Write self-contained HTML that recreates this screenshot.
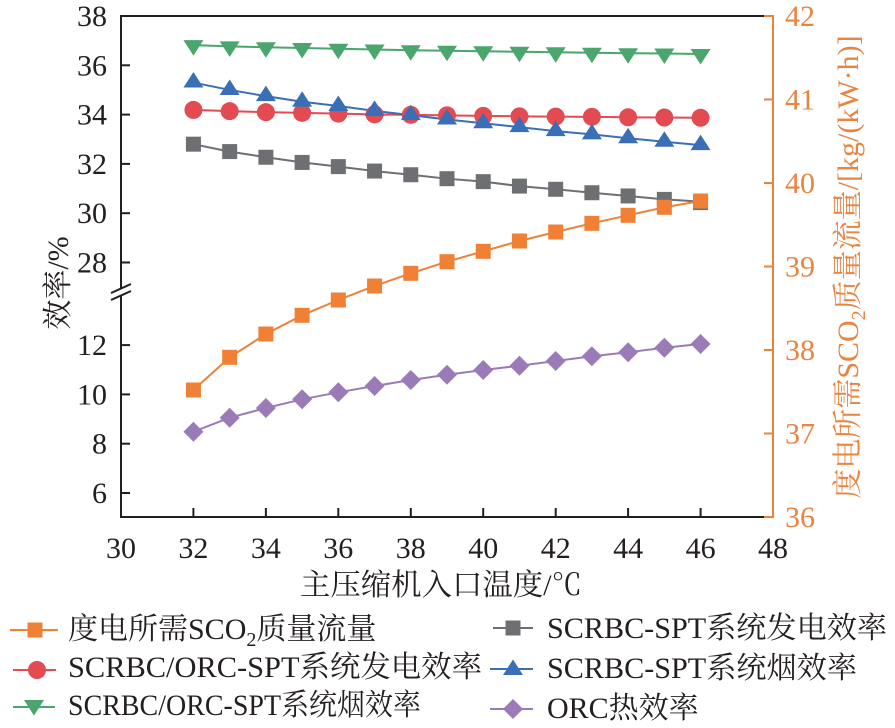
<!DOCTYPE html>
<html>
<head>
<meta charset="utf-8">
<style>
html,body{margin:0;padding:0;background:#fff;}
svg{display:block;}
text{font-family:"Liberation Serif","Noto Serif CJK SC","Noto Sans CJK SC",serif;}
</style>
</head>
<body>
<svg width="895" height="728" viewBox="0 0 895 728" xmlns="http://www.w3.org/2000/svg">
<defs>
  <rect id="sqO" x="-7.5" y="-7.5" width="15" height="15" fill="#f08035"/>
  <rect id="sqG" x="-7.5" y="-7.5" width="15" height="15" fill="#6e6f72"/>
  <circle id="ciR" cx="0" cy="0" r="9" fill="#e34a52"/>
  <polygon id="tuB" points="-10,5 10,5 0,-10.5" fill="#3a6fb8"/>
  <polygon id="tdG" points="-10,-5 10,-5 0,10.5" fill="#4aa66c"/>
  <polygon id="diP" points="0,-10 10,0 0,10 -10,0" fill="#9a7bb8"/>
</defs>

<!-- frame -->
<g stroke="#231f20" stroke-width="2" fill="none">
  <line x1="120" y1="16" x2="773" y2="16"/>
  <line x1="120" y1="517" x2="773" y2="517"/>
  <line x1="121" y1="15" x2="121" y2="288.5"/>
  <line x1="121" y1="295.5" x2="121" y2="518"/>
  <line x1="121" y1="65.3" x2="130" y2="65.3"/>
  <line x1="121" y1="114.6" x2="130" y2="114.6"/>
  <line x1="121" y1="163.9" x2="130" y2="163.9"/>
  <line x1="121" y1="213.2" x2="130" y2="213.2"/>
  <line x1="121" y1="262.5" x2="130" y2="262.5"/>
  <line x1="121" y1="345.1" x2="130" y2="345.1"/>
  <line x1="121" y1="394.4" x2="130" y2="394.4"/>
  <line x1="121" y1="443.7" x2="130" y2="443.7"/>
  <line x1="121" y1="493" x2="130" y2="493"/>
  <line x1="193.4" y1="508" x2="193.4" y2="517"/>
  <line x1="265.9" y1="508" x2="265.9" y2="517"/>
  <line x1="338.3" y1="508" x2="338.3" y2="517"/>
  <line x1="410.8" y1="508" x2="410.8" y2="517"/>
  <line x1="483.2" y1="508" x2="483.2" y2="517"/>
  <line x1="555.7" y1="508" x2="555.7" y2="517"/>
  <line x1="628.1" y1="508" x2="628.1" y2="517"/>
  <line x1="700.6" y1="508" x2="700.6" y2="517"/>
  <line x1="111" y1="293" x2="131" y2="284"/>
  <line x1="111" y1="300" x2="131" y2="291"/>
</g>
<g stroke="#e9833f" stroke-width="2" fill="none">
  <line x1="773" y1="15" x2="773" y2="518"/>
  <line x1="764" y1="16" x2="773" y2="16"/>
  <line x1="764" y1="99.5" x2="773" y2="99.5"/>
  <line x1="764" y1="183" x2="773" y2="183"/>
  <line x1="764" y1="266.5" x2="773" y2="266.5"/>
  <line x1="764" y1="350" x2="773" y2="350"/>
  <line x1="764" y1="433.5" x2="773" y2="433.5"/>
  <line x1="764" y1="517" x2="773" y2="517"/>
</g>

<g font-size="30" fill="#231f20" text-anchor="end">
  <text x="107" y="26">38</text>
  <text x="107" y="75.3">36</text>
  <text x="107" y="124.6">34</text>
  <text x="107" y="173.9">32</text>
  <text x="107" y="223.2">30</text>
  <text x="107" y="272.5">28</text>
  <text x="107" y="355.1">12</text>
  <text x="107" y="404.4">10</text>
  <text x="107" y="453.7">8</text>
  <text x="107" y="503">6</text>
</g>
<g font-size="30" fill="#231f20" text-anchor="middle">
  <text x="121" y="558">30</text>
  <text x="193.4" y="558">32</text>
  <text x="265.9" y="558">34</text>
  <text x="338.3" y="558">36</text>
  <text x="410.8" y="558">38</text>
  <text x="483.2" y="558">40</text>
  <text x="555.7" y="558">42</text>
  <text x="628.1" y="558">44</text>
  <text x="700.6" y="558">46</text>
  <text x="773" y="558">48</text>
</g>
<g font-size="30" fill="#e9833f" text-anchor="start">
  <text x="785" y="26">42</text>
  <text x="785" y="109.5">41</text>
  <text x="785" y="193">40</text>
  <text x="785" y="276.5">39</text>
  <text x="785" y="360">38</text>
  <text x="785" y="443.5">37</text>
  <text x="785" y="527">36</text>
</g>

<text x="300" y="595" font-size="30" fill="#231f20" textLength="282" lengthAdjust="spacingAndGlyphs">主压缩机入口温度/℃</text>
<text transform="translate(68,283) rotate(-90)" font-size="30" fill="#231f20" text-anchor="middle">效率/%</text>
<text transform="translate(858,267) rotate(-90)" font-size="30" fill="#e9833f" text-anchor="middle">度电所需SCO<tspan font-size="20" dy="7">2</tspan><tspan dy="-7">质量流量/[kg/(kW·h)]</tspan></text>

<g fill="none" stroke-width="2">
  <polyline stroke="#6e6f72" points="193.44,144.18 229.67,151.58 265.89,157.24 302.11,162.42 338.33,166.61 374.56,171.05 410.78,174.75 447,178.69 483.22,181.65 519.44,186.09 555.67,189.29 591.89,192.74 628.11,195.95 664.33,199.4 700.56,201.61"/>
  <polyline stroke="#e34a52" points="193.44,109.92 229.67,111.15 265.89,112.14 302.11,112.87 338.33,113.61 374.56,114.35 410.78,114.85 447,115.34 483.22,115.83 519.44,116.33 555.67,116.57 591.89,116.82 628.11,117.31 664.33,117.56 700.56,117.8"/>
  <polyline stroke="#3a6fb8" points="193.44,82.56 229.67,89.95 265.89,96.11 302.11,101.78 338.33,105.97 374.56,110.9 410.78,115.09 447,119.53 483.22,123.23 519.44,127.17 555.67,131.12 591.89,134.32 628.11,138.26 664.33,141.72 700.56,145.17"/>
  <polyline stroke="#4aa66c" points="193.44,45.09 229.67,46.32 265.89,47.31 302.11,48.05 338.33,48.78 374.56,49.52 410.78,50.26 447,50.76 483.22,51.25 519.44,51.74 555.67,52.24 591.89,52.73 628.11,53.22 664.33,53.47 700.56,53.96"/>
  <polyline stroke="#9a7bb8" points="193.44,431.7 229.67,417.7 265.89,408 302.11,399.3 338.33,392.3 374.56,386 410.78,380 447,374.7 483.22,370 519.44,365.7 555.67,361 591.89,356.3 628.11,352.3 664.33,347.7 700.56,344"/>
  <polyline stroke="#f08035" points="193.44,390 229.67,357.3 265.89,334 302.11,315.3 338.33,300 374.56,286 410.78,273.3 447,261.7 483.22,251.3 519.44,241 555.67,232 591.89,223.3 628.11,215.3 664.33,207.3 700.56,201"/>
</g>

<g>
  <use href="#sqG" x="193.44" y="144.18"/><use href="#sqG" x="229.67" y="151.58"/><use href="#sqG" x="265.89" y="157.24"/><use href="#sqG" x="302.11" y="162.42"/><use href="#sqG" x="338.33" y="166.61"/><use href="#sqG" x="374.56" y="171.05"/><use href="#sqG" x="410.78" y="174.75"/><use href="#sqG" x="447" y="178.69"/><use href="#sqG" x="483.22" y="181.65"/><use href="#sqG" x="519.44" y="186.09"/><use href="#sqG" x="555.67" y="189.29"/><use href="#sqG" x="591.89" y="192.74"/><use href="#sqG" x="628.11" y="195.95"/><use href="#sqG" x="664.33" y="199.4"/><use href="#sqG" x="700.56" y="202.61"/>
</g>
<g>
  <use href="#ciR" x="193.44" y="109.92"/><use href="#ciR" x="229.67" y="111.15"/><use href="#ciR" x="265.89" y="112.14"/><use href="#ciR" x="302.11" y="112.87"/><use href="#ciR" x="338.33" y="113.61"/><use href="#ciR" x="374.56" y="114.35"/><use href="#ciR" x="410.78" y="114.85"/><use href="#ciR" x="447" y="115.34"/><use href="#ciR" x="483.22" y="115.83"/><use href="#ciR" x="519.44" y="116.33"/><use href="#ciR" x="555.67" y="116.57"/><use href="#ciR" x="591.89" y="116.82"/><use href="#ciR" x="628.11" y="117.31"/><use href="#ciR" x="664.33" y="117.56"/><use href="#ciR" x="700.56" y="117.8"/>
</g>
<g>
  <use href="#tuB" x="193.44" y="82.56"/><use href="#tuB" x="229.67" y="89.95"/><use href="#tuB" x="265.89" y="96.11"/><use href="#tuB" x="302.11" y="101.78"/><use href="#tuB" x="338.33" y="105.97"/><use href="#tuB" x="374.56" y="110.9"/><use href="#tuB" x="410.78" y="115.09"/><use href="#tuB" x="447" y="119.53"/><use href="#tuB" x="483.22" y="123.23"/><use href="#tuB" x="519.44" y="127.17"/><use href="#tuB" x="555.67" y="131.12"/><use href="#tuB" x="591.89" y="134.32"/><use href="#tuB" x="628.11" y="138.26"/><use href="#tuB" x="664.33" y="141.72"/><use href="#tuB" x="700.56" y="145.17"/>
</g>
<g>
  <use href="#tdG" x="193.44" y="45.09"/><use href="#tdG" x="229.67" y="46.32"/><use href="#tdG" x="265.89" y="47.31"/><use href="#tdG" x="302.11" y="48.05"/><use href="#tdG" x="338.33" y="48.78"/><use href="#tdG" x="374.56" y="49.52"/><use href="#tdG" x="410.78" y="50.26"/><use href="#tdG" x="447" y="50.76"/><use href="#tdG" x="483.22" y="51.25"/><use href="#tdG" x="519.44" y="51.74"/><use href="#tdG" x="555.67" y="52.24"/><use href="#tdG" x="591.89" y="52.73"/><use href="#tdG" x="628.11" y="53.22"/><use href="#tdG" x="664.33" y="53.47"/><use href="#tdG" x="700.56" y="53.96"/>
</g>
<g>
  <use href="#diP" x="193.44" y="431.7"/><use href="#diP" x="229.67" y="417.7"/><use href="#diP" x="265.89" y="408"/><use href="#diP" x="302.11" y="399.3"/><use href="#diP" x="338.33" y="392.3"/><use href="#diP" x="374.56" y="386"/><use href="#diP" x="410.78" y="380"/><use href="#diP" x="447" y="374.7"/><use href="#diP" x="483.22" y="370"/><use href="#diP" x="519.44" y="365.7"/><use href="#diP" x="555.67" y="361"/><use href="#diP" x="591.89" y="356.3"/><use href="#diP" x="628.11" y="352.3"/><use href="#diP" x="664.33" y="347.7"/><use href="#diP" x="700.56" y="344"/>
</g>
<g>
  <use href="#sqO" x="193.44" y="390"/><use href="#sqO" x="229.67" y="357.3"/><use href="#sqO" x="265.89" y="334"/><use href="#sqO" x="302.11" y="315.3"/><use href="#sqO" x="338.33" y="300"/><use href="#sqO" x="374.56" y="286"/><use href="#sqO" x="410.78" y="273.3"/><use href="#sqO" x="447" y="261.7"/><use href="#sqO" x="483.22" y="251.3"/><use href="#sqO" x="519.44" y="241"/><use href="#sqO" x="555.67" y="232"/><use href="#sqO" x="591.89" y="223.3"/><use href="#sqO" x="628.11" y="215.3"/><use href="#sqO" x="664.33" y="207.3"/><use href="#sqO" x="700.56" y="201"/>
</g>

<g stroke-width="2">
  <line x1="10" y1="630" x2="58" y2="630" stroke="#f08035"/>
  <line x1="13" y1="670" x2="56" y2="670" stroke="#e34a52"/>
  <line x1="13" y1="707" x2="55" y2="707" stroke="#4aa66c"/>
  <line x1="493" y1="628" x2="533" y2="628" stroke="#6e6f72"/>
  <line x1="490" y1="669" x2="533" y2="669" stroke="#3a6fb8"/>
  <line x1="490" y1="709" x2="533" y2="709" stroke="#9a7bb8"/>
</g>
<use href="#sqO" x="35" y="630"/>
<use href="#ciR" x="37" y="670"/>
<use href="#tdG" x="34" y="705"/>
<use href="#sqG" x="513" y="628"/>
<use href="#tuB" x="513" y="670"/>
<use href="#diP" x="513" y="709"/>

<g font-size="30" fill="#231f20">
  <text x="68" y="639">度电所需SCO<tspan font-size="20" dy="7">2</tspan><tspan dy="-7">质量流量</tspan></text>
  <text x="68" y="677" textLength="414" lengthAdjust="spacingAndGlyphs">SCRBC/ORC-SPT系统发电效率</text>
  <text x="68" y="715" textLength="353" lengthAdjust="spacingAndGlyphs">SCRBC/ORC-SPT系统烟效率</text>
  <text x="547" y="638" textLength="340" lengthAdjust="spacingAndGlyphs">SCRBC-SPT系统发电效率</text>
  <text x="547" y="678" textLength="310" lengthAdjust="spacingAndGlyphs">SCRBC-SPT系统烟效率</text>
  <text x="547" y="718">ORC热效率</text>
</g>
</svg>
</body>
</html>
